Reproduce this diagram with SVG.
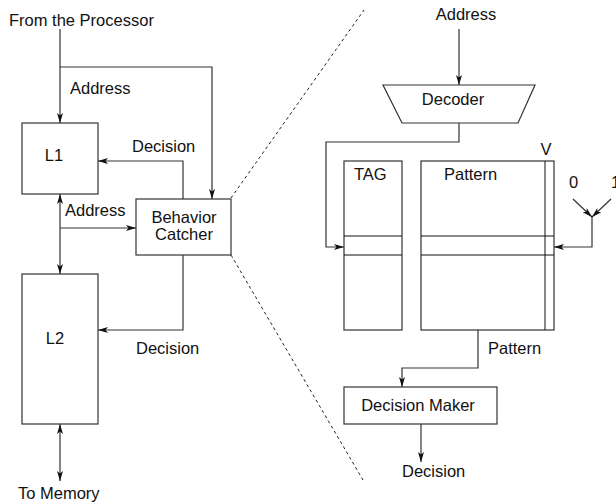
<svg xmlns="http://www.w3.org/2000/svg" width="616" height="504" viewBox="0 0 616 504">
<style>
text{font-family:"Liberation Sans",Arial,sans-serif;font-size:16.5px;fill:#111}
.box{fill:#fff;stroke:#333;stroke-width:1.2}
.ln{fill:none;stroke:#333;stroke-width:1.2}
.thin{fill:none;stroke:#111;stroke-width:1}
.arr{marker-end:url(#ah)}
.both{marker-start:url(#ah);marker-end:url(#ah)}
.dash{fill:none;stroke:#222;stroke-width:1;stroke-dasharray:3 3}
.c{text-anchor:middle}
</style>
<defs>
<marker id="ah" viewBox="0 0 10 6" refX="10" refY="3" markerWidth="10" markerHeight="6" markerUnits="userSpaceOnUse" orient="auto-start-reverse">
<path d="M0,0 L10,3 L0,6 L2.5,3 z" fill="#111"/>
</marker>
</defs>
<g id="connectors">
<path class="ln arr" d="M60,29 V123"/>
<path class="ln arr" d="M60,67 H212 V199"/>
<path class="ln arr" d="M183,199 V161 H98"/>
<path class="ln both" d="M60,194 V274"/>
<path class="ln arr" d="M60,228 H136"/>
<path class="ln arr" d="M183,255 V330 H98"/>
<path class="ln both" d="M60,424 V481"/>
<path class="dash" d="M231,198 L364,10"/>
<path class="dash" d="M231,255 L363,480"/>
<path class="ln arr" d="M459,29 V85"/>
<path class="ln arr" d="M459,123 V142 H326 V247 H344"/>
<path class="ln arr" d="M573,199 L592,217"/>
<path class="ln arr" d="M611,199 L592,217"/>
<path class="ln arr" d="M592,217 V247 H554"/>
<path class="ln arr" d="M478,330 V368 H402 V387"/>
<path class="ln arr" d="M421,424 V462"/>
</g>
<g id="labels">
<text x="9" y="26">From the Processor</text>
<text x="70" y="94">Address</text>
<text x="132" y="152">Decision</text>
<text x="65" y="216">Address</text>
<text x="136" y="354">Decision</text>
<text x="18" y="499">To Memory</text>
<text x="466" y="20" class="c">Address</text>
<text x="569" y="188">0</text>
<text x="611" y="188">1</text>
<text x="488" y="354">Pattern</text>
<text x="402" y="477">Decision</text>
</g>
<g id="L1">
<rect class="box" x="22" y="123" width="76" height="71"/>
<text x="54" y="161" class="c">L1</text>
</g>
<g id="behavior-catcher">
<rect class="box" x="136" y="199" width="95" height="56"/>
<text x="184" y="223" class="c">Behavior</text>
<text x="184" y="240" class="c">Catcher</text>
</g>
<g id="L2">
<rect class="box" x="22" y="274" width="76" height="150"/>
<text x="55" y="344" class="c">L2</text>
</g>
<g id="decoder">
<polygon class="box" points="383,85 535,85 518,123 402,123"/>
<text x="453" y="105" class="c">Decoder</text>
</g>
<g id="tag">
<rect class="box" x="344" y="161" width="58" height="169"/>
<path class="thin" d="M344,236 H402 M344,255 H402"/>
<text x="354" y="180">TAG</text>
</g>
<g id="pattern">
<rect class="box" x="421" y="161" width="133" height="169"/>
<path class="thin" d="M421,236 H554 M421,255 H554 M545,161 V330"/>
<text x="444" y="180">Pattern</text>
<text x="546" y="155" class="c">V</text>
</g>
<g id="decision-maker">
<rect class="box" x="344" y="387" width="153" height="37"/>
<text x="418" y="411" class="c">Decision Maker</text>
</g>
</svg>
